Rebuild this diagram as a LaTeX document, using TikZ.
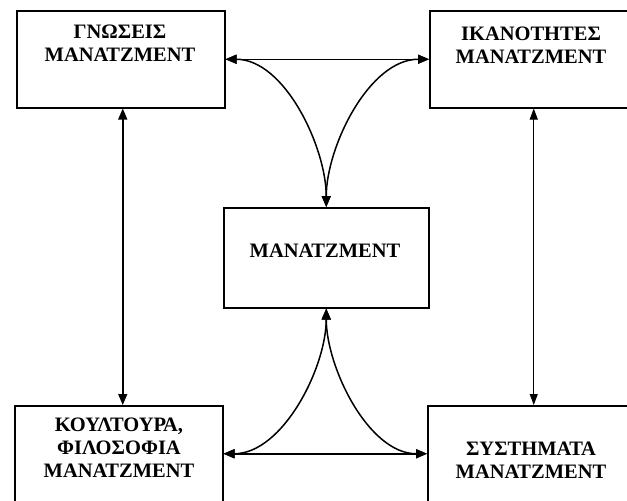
\documentclass[tikz,border=0pt]{standalone}
\usepackage{fontspec}
\setmainfont{Liberation Serif}
\usetikzlibrary{arrows.meta}
\begin{document}
\begin{tikzpicture}[x=1pt,y=-1pt,
 box/.style={draw,line width=1.5pt,inner sep=0pt,anchor=north west},
 lbl/.style={font=\fontsize{20.5}{23}\selectfont\bfseries,align=center,inner sep=0pt,anchor=center},
 link/.style={line width=1.5pt,{Triangle[length=11pt,width=9pt]}-{Triangle[length=11pt,width=9pt]}},
 thinlink/.style={line width=1pt,{Triangle[length=11pt,width=8pt]}-{Triangle[length=11pt,width=8pt]}},
]
\useasboundingbox (0,0) rectangle (627,501);
\node[box,minimum width=208pt,minimum height=97pt] (tl) at (16,10) {};
\node[box,minimum width=220pt,minimum height=97pt] (tr) at (429,10) {};
\node[box,minimum width=205pt,minimum height=100pt] (c) at (223,207) {};
\node[box,minimum width=208pt,minimum height=120pt] (bl) at (14,405) {};
\node[box,minimum width=220pt,minimum height=120pt] (br) at (427,405) {};

\node[lbl] (tlt) at (120,43) {ΓΝΩΣΕΙΣ\\ΜΑΝΑΤΖΜΕΝΤ};
\node[lbl] (trt) at (531,45) {ΙΚΑΝΟΤΗΤΕΣ\\ΜΑΝΑΤΖΜΕΝΤ};
\node[lbl] (ct) at (325,251) {ΜΑΝΑΤΖΜΕΝΤ};
\node[lbl] (blt) at (119,448) {ΚΟΥΛΤΟΥΡΑ,\\ΦΙΛΟΣΟΦΙΑ\\ΜΑΝΑΤΖΜΕΝΤ};
\node[lbl] (brt) at (531,460) {ΣΥΣΤΗΜΑΤΑ\\ΜΑΝΑΤΖΜΕΝΤ};

\draw[link] (tl.east) -- (tr.west);
\draw[link] (tl.east) to[out=0,in=90,looseness=0.85] (c.north);
\draw[link] (tr.west) to[out=180,in=90,looseness=0.85] (c.north);

\draw[link] ([yshift=12pt]bl.east) -- ([yshift=12pt]br.west);
\draw[link] ([yshift=12pt]bl.east) to[out=0,in=-90,looseness=0.85] (c.south);
\draw[link] ([yshift=12pt]br.west) to[out=180,in=-90,looseness=0.85] (c.south);

\draw[link] ([xshift=2pt]tl.south) -- ([xshift=2pt]tl.south |- bl.north);
\draw[thinlink] ([xshift=-6pt]tr.south) -- ([xshift=-6pt]tr.south |- br.north);
\end{tikzpicture}
\end{document}
